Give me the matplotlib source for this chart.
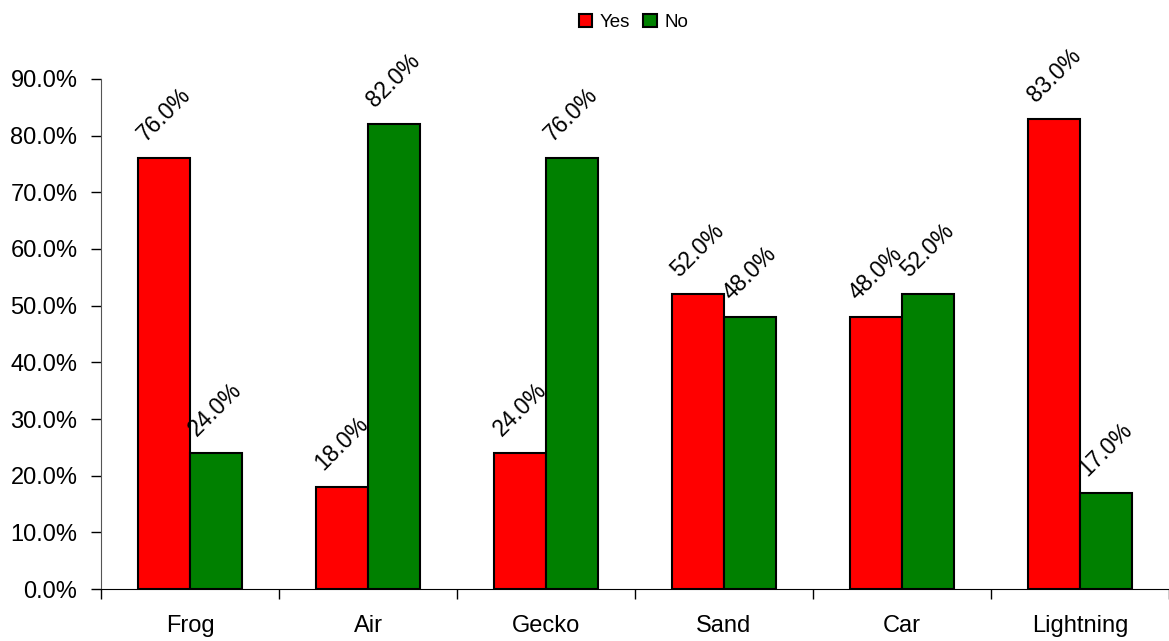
import matplotlib
matplotlib.use("Agg")
import matplotlib.pyplot as plt
import numpy as np

# ---- DATA ----
categories = ["Frog", "Air", "Gecko", "Sand", "Car", "Lightning"]
yes_pct = [76.0, 18.0, 24.0, 52.0, 48.0, 83.0]
no_pct = [24.0, 82.0, 76.0, 48.0, 52.0, 17.0]

plt.rcParams["font.family"] = ["Liberation Sans", "DejaVu Sans"]

fig = plt.figure(figsize=(11.69, 6.41), dpi=100)
ax = fig.add_axes([0.0864, 0.0811, 0.9136, 0.7957])

x = np.arange(len(categories))
w = 0.29
bars_yes = ax.bar(x - w / 2, yes_pct, w, color="#FF0000", edgecolor="black", linewidth=1.5, label="Yes")
bars_no = ax.bar(x + w / 2, no_pct, w, color="#008000", edgecolor="black", linewidth=1.5, label="No")

# rotated value labels above each bar
for bars, vals in ((bars_yes, yes_pct), (bars_no, no_pct)):
  for b, v in zip(bars, vals):
    ax.text(b.get_x() + 0.04, v + 2.8, f"{v:.1f}%", rotation=45, rotation_mode="anchor",
            ha="left", va="baseline", fontsize=16.5, clip_on=False)

ax.set_xlim(-0.5, len(categories) - 0.5)
ax.set_ylim(0, 90)
ax.set_yticks(np.arange(0, 91, 10))
ax.set_yticklabels([f"{t:.1f}%" for t in np.arange(0, 91, 10)], fontsize=17)
ax.set_xticks(x)
ax.set_xticklabels(categories, fontsize=17)
ax.set_xticks(np.arange(-0.5, len(categories)), minor=True)
ax.tick_params(axis="x", which="major", length=0, pad=19)
ax.tick_params(axis="x", which="minor", length=7, width=1, direction="out")
ax.tick_params(axis="y", length=7, width=1, direction="out", pad=10)

for s in ("top", "right"):
  ax.spines[s].set_visible(False)
ax.spines["left"].set_color("#555555")
ax.spines["bottom"].set_color("black")

fig.legend(loc="upper center", bbox_to_anchor=(0.542, 1.005), ncol=2, frameon=False,
           fontsize=13.5, handlelength=0.7, handleheight=0.7, handletextpad=0.4,
           columnspacing=0.7)

fig.savefig("out.png", dpi=100)
